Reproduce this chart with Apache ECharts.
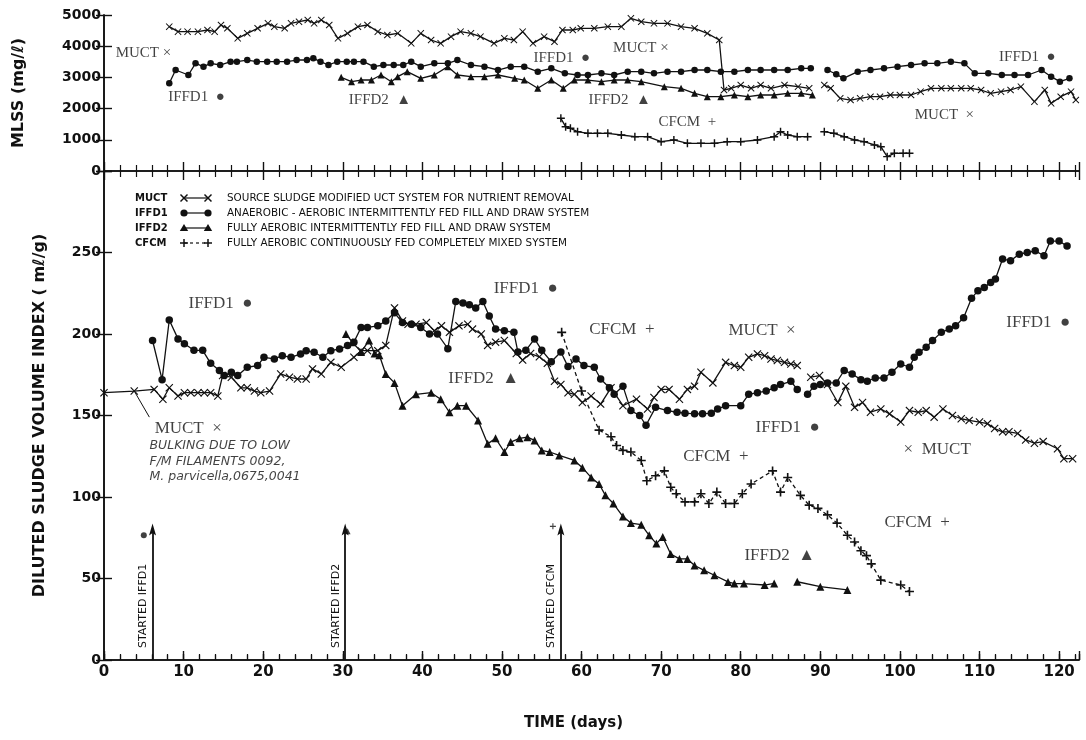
<!DOCTYPE html>
<html>
<head>
<meta charset="utf-8">
<script src="https://cdn.jsdelivr.net/npm/echarts@6/dist/echarts.min.js"></script>
<style>
  html, body { margin: 0; padding: 0; background: #fff; }
  #chart { width: 1086px; height: 740px; }
</style>
</head>
<body>
<div id="chart"></div>
<script>
// ---- MLSS (mg/l), upper panel: [day, value] ----
const mlssMuct = [[8.2,4626],[9.3,4466],[10.5,4466],[11.8,4466],[13,4519],[13.9,4466],[14.7,4679],[15.5,4573],[16.8,4252],[18,4412],[19.3,4573],[20.6,4733],[21.4,4626],[22.7,4573],[23.5,4733],[24.5,4786],[25.6,4840],[26.4,4733],[27.3,4840],[28.3,4679],[29.4,4252],[30.6,4412],[31.9,4626],[33.1,4679],[34.4,4466],[35.6,4359],[36.9,4412],[38.6,4092],[39.8,4412],[41.1,4199],[42.3,4092],[43.6,4306],[44.8,4466],[46.1,4412],[47.3,4306],[49,4092],[50.3,4252],[51.5,4199],[52.6,4466],[53.9,4092],[55.3,4306],[56.6,4145],[57.6,4519],[58.9,4519],[59.9,4573],[61.6,4573],[63.3,4626],[65,4626],[66.2,4893],[67.5,4786],[69.1,4733],[70.8,4733],[72.5,4626],[74.2,4573],[75.8,4412],[77.3,4199],[77.9,2596],[78.8,2650],[80,2756],[81.3,2650],[82.5,2756],[83.8,2650],[85.5,2756],[87.2,2703],[88.6,2650],[89.9,'-'],[90.5,2756],[91.3,2650],[92.5,2329],[93.8,2275],[95,2329],[96.3,2382],[97.5,2382],[98.8,2436],[100,2436],[101.4,2436],[102.6,2543],[103.9,2650],[105.2,2650],[106.4,2650],[107.7,2650],[108.9,2650],[110.2,2596],[111.4,2489],[112.7,2543],[113.9,2596],[115.2,2703],[116.9,2222],[118.2,2596],[119,2168],[120.2,2382],[121.5,2543],[122.1,2275]];
const mlssIffd1 = [[8.2,2810],[9,3237],[10.6,3077],[11.5,3450],[12.5,3344],[13.4,3450],[14.6,3397],[15.9,3504],[16.7,3504],[18,3557],[19.2,3504],[20.5,3504],[21.7,3504],[23,3504],[24.2,3557],[25.5,3557],[26.3,3611],[27.2,3504],[28.2,3397],[29.3,3504],[30.5,3504],[31.4,3504],[32.6,3504],[33.9,3344],[35.1,3397],[36.4,3397],[37.6,3397],[38.6,3504],[39.8,3344],[41.5,3450],[43.2,3450],[44.4,3557],[46.1,3397],[47.8,3344],[49.5,3237],[51.1,3344],[52.8,3344],[54.5,3184],[56.2,3291],[57.9,3130],[59.5,3077],[60.8,3077],[62.5,3130],[64.1,3077],[65.8,3184],[67.5,3184],[69.1,3130],[70.8,3184],[72.5,3184],[74.2,3237],[75.8,3237],[77.5,3184],[79.2,3184],[80.9,3237],[82.5,3237],[84.2,3237],[85.9,3237],[87.6,3291],[88.8,3291],[89.9,'-'],[90.9,3237],[92,3100],[92.9,2970],[94.7,3184],[96.3,3237],[98,3291],[99.7,3344],[101.4,3397],[103.1,3450],[104.7,3450],[106.4,3504],[108.1,3450],[109.4,3130],[111.1,3130],[112.8,3077],[114.4,3077],[116.1,3077],[117.8,3237],[119,3023],[120.1,2863],[121.3,2970]];
const mlssIffd2 = [[29.8,3002],[31.1,2863],[32.3,2916],[33.6,2916],[34.8,3077],[36.1,2863],[36.9,3023],[38.1,3184],[39.8,2970],[41.5,3077],[43.2,3344],[44.4,3077],[46.1,3023],[47.8,3023],[49.5,3077],[51.6,2970],[52.8,2916],[54.5,2650],[56.2,2916],[57.7,2650],[59.1,2916],[60.8,2916],[62.5,2863],[64.1,2916],[65.8,2916],[67.5,2863],[70.4,2703],[72.5,2650],[74.2,2489],[75.8,2382],[77.5,2382],[79.2,2436],[80.9,2382],[82.5,2436],[84.2,2436],[85.9,2489],[87.6,2489],[89,2436]];
const mlssCfcm = [[57.4,1688],[58,1421],[58.6,1368],[59.5,1261],[60.8,1207],[62,1207],[63.3,1207],[65,1154],[66.7,1100],[68.3,1100],[70,940],[71.6,994],[73.3,887],[75,887],[76.7,887],[78.3,940],[80,940],[82.1,994],[84.2,1100],[85,1261],[85.9,1154],[87.1,1100],[88.4,1100],[89.9,'-'],[90.5,1261],[91.7,1207],[93,1100],[94.3,994],[95.5,940],[96.8,834],[97.6,780],[98.4,460],[99.3,567],[100.4,567],[101.2,567]];

// ---- Diluted sludge volume index (ml/g), lower panel: [day, value] ----
const dsviMuct = [[0,164],[3.8,165],[6.3,166],[7.4,160],[8.2,167],[9.3,162],[10.1,164],[10.9,164],[11.8,164],[12.6,164],[13.4,164],[14.3,162],[14.9,174.5],[16,173.5],[17.2,167],[18,167],[18.9,165],[19.7,164],[20.8,165],[22.2,175.5],[23.3,173.5],[24.3,172.4],[25.4,172.4],[26.2,178.6],[27.3,175.5],[28.5,182.6],[29.8,179.6],[31.4,185.7],[32.3,189.8],[33.1,189.8],[34.4,189.8],[35.4,193],[36.5,216],[37.5,208],[38.2,206],[39.2,206],[40.5,207],[41.5,202],[42.4,205],[43.4,201],[44.6,205],[45.7,206],[46.3,203],[47.4,200],[48.2,193],[49.2,195],[50.3,196],[51.8,188],[52.6,184],[53.6,188],[54.7,186],[55.7,182],[56.6,171],[57.4,169],[58.3,164],[59.1,163],[60.1,158],[61.2,162],[62.4,157],[63.7,167],[65.2,156],[66.9,160],[68.3,154],[69.1,161],[70,166],[71,166],[72.3,160],[73.3,166],[74.2,168],[75,176.5],[76.5,170],[78.1,182.6],[79.2,180.6],[80,179.6],[81,185.7],[82.1,187.8],[83,186.7],[83.8,184.7],[84.6,183.7],[85.5,182.6],[86.3,181.6],[87.1,180.6],[87.9,'-'],[88.8,173.5],[89.9,174.5],[90.9,169],[92.2,158],[93.2,168],[94.3,155],[95.3,158],[96.3,152],[97.6,154],[98.7,151],[100.1,146],[101.2,153],[102.3,152],[103.3,153],[104.3,149],[105.4,154],[106.6,150],[107.7,148],[108.7,147],[110,146],[111,145],[111.9,142],[112.9,140],[113.7,140],[114.8,139],[115.8,135],[116.9,133],[118,134],[119.8,129.6],[120.6,123.5],[121.7,123.5]];
const dsviIffd1 = [[6.1,196],[7.3,172],[8.2,208.6],[9.3,197],[10.1,194],[11.3,190],[12.4,190],[13.4,182],[14.5,177.6],[15.1,174.5],[16,176.5],[16.8,174.5],[18,179.6],[19.3,180.6],[20.1,185.7],[21.4,184.7],[22.4,186.7],[23.5,185.7],[24.7,187.8],[25.4,189.8],[26.4,188.8],[27.5,185.7],[28.5,189.8],[29.6,190.8],[30.6,192.9],[31.4,195],[32.3,204],[33.1,204],[34.4,205],[35.4,208],[36.5,213],[37.5,207],[38.6,206],[39.8,204],[40.9,200],[41.9,200],[43.2,191],[44.2,220],[45.1,219],[45.9,218],[46.7,216],[47.6,220],[48.4,211],[49.2,203],[50.3,202],[51.5,201],[52,189],[53,190],[54.1,197],[55,190],[56.2,183],[57.4,189],[58.3,180],[59.3,184.7],[60.3,180.6],[61.6,179.6],[62.4,172.4],[63.5,167],[64.1,163],[65.2,168],[66.2,153],[67.3,150],[68.1,144],[69.3,155],[70.8,153],[72,152],[73,151.4],[74.2,151],[75.2,151],[76.3,151.4],[77.1,154],[78.1,156],[80,156],[81,163],[82.1,164],[83.2,165],[84.2,167],[85,169],[86.3,171],[87.1,166],[87.8,'-'],[88.4,163],[89.2,168],[90,169],[90.9,170],[92,170],[93,177.6],[94,175.5],[95.1,172],[95.9,171],[96.9,173],[98,173],[99,176.5],[100.1,181.6],[101.2,179.6],[101.8,185.7],[102.4,188.8],[103.3,191.8],[104.1,196],[105.2,201],[106.2,203],[107,205],[108,210],[109,222],[109.8,226.5],[110.6,228.6],[111.4,231.6],[112,233.7],[112.9,246],[113.9,245],[115,249],[116,250],[117,251],[118.1,248],[118.9,257],[120,257],[121,254]];
const dsviIffd2 = [[30.4,200],[31.2,195],[32.3,189],[33.3,196],[34,188],[34.6,187],[35.4,175.5],[36.5,170],[37.5,156],[39.2,163],[41.1,164],[42.3,160],[43.4,152],[44.4,156],[45.5,156],[47,147],[48.2,132.6],[49.2,136],[50.3,127.6],[51.1,133.7],[52.2,136],[53.2,136.7],[54.1,134.7],[55,128.6],[56,127.6],[57.2,125.5],[59.1,122.4],[60.1,118],[61.2,112],[62.2,108],[63,101],[64,96],[65.2,88],[66.2,84],[67.5,83],[68.5,76.5],[69.4,71.4],[70.2,75.5],[71.2,65],[72.3,62],[73.3,62],[74.2,58],[75.4,55],[76.7,52],[78.4,47.9],[79.2,46.9],[80.4,46.9],[83,46],[84.2,47],[85.5,'-'],[87.1,48],[90,45],[93.4,43]];
const dsviCfcm = [[57.5,201],[60,165],[62.2,141],[63.7,137],[64.4,131.6],[65.2,128.6],[66.2,127.6],[67.5,122.4],[68.2,110],[69.3,113],[70.4,116],[71.2,106],[71.9,102],[73,97],[74.2,97],[75,102],[76,96],[77,103],[78.1,96],[79.2,96],[80.2,102],[81.3,108],[84,116],[85,103],[85.9,112],[87.5,101],[88.6,95],[89.7,93],[90.9,89],[92.1,84],[93.4,76.5],[94.3,72.4],[95.1,67],[95.8,64],[96.4,59],[97.6,49],[100.1,46],[101.2,42]];

// ---- Axis ranges and tick labels ----
const dayMax = 122.5, dayStep = 10;
const mlssMax = 5000, mlssStep = 1000;
const dsviMax = 300, dsviStep = 50;

// ---- Text placed on the plots: [day, value, text] (text begins at that point) ----
const mlssTags = [[1.4,3782,'MUCT ×'],[8.0,2372,'IFFD1  ●'],[30.7,2276,'IFFD2  ▲'],[53.9,3622,'IFFD1  ●'],[63.9,3942,'MUCT ×'],[60.8,2276,'IFFD2  ▲'],[69.6,1570,'CFCM  +'],[112.4,3654,'IFFD1  ●'],[101.8,1795,'MUCT  ×']];
const dsviTags = [[10.55,218.5,'IFFD1  ●'],[48.9,227.7,'IFFD1  ●'],[43.2,172.6,'IFFD2  ▲'],[6.3,142,'MUCT  ×'],[60.9,203,'CFCM  +'],[78.4,202,'MUCT  ×'],[113.3,206.9,'IFFD1  ●'],[81.8,142.6,'IFFD1  ●'],[72.7,124.8,'CFCM  +'],[100.4,129,'×  MUCT'],[98,84.5,'CFCM  +'],[80.4,64.3,'IFFD2  ▲']];
const bulkingNote = [[5.65,121.8,'BULKING DUE TO LOW\nF/M FILAMENTS 0092,\nM. parvicella,0675,0041']];
const noteLeader = [[3.8,165],[5.7,149]];
// start-up arrows: [day, arrow top value, label]
const startArrows = [[6.1,80,'STARTED IFFD1'],[30.3,80,'STARTED IFFD2'],[57.4,80,'STARTED CFCM']];
const startMarks = [[5.0,76.5,'IFFD1'],[30.6,79,'IFFD2'],[56.4,82,'CFCM']];

const legendRows = [
  ['MUCT', 'SOURCE SLUDGE MODIFIED UCT SYSTEM FOR NUTRIENT REMOVAL'],
  ['IFFD1', 'ANAEROBIC - AEROBIC INTERMITTENTLY FED FILL AND DRAW SYSTEM'],
  ['IFFD2', 'FULLY AEROBIC INTERMITTENTLY FED FILL AND DRAW SYSTEM'],
  ['CFCM', 'FULLY AEROBIC CONTINUOUSLY FED COMPLETELY MIXED SYSTEM']
];

// ---- marker shapes ----
const X_PATH = 'path://M1,0 L5,4 L9,0 L10,1 L6,5 L10,9 L9,10 L5,6 L1,10 L0,9 L4,5 L0,1 Z';
const PLUS_PATH = 'path://M4.1,0 H5.9 V4.1 H10 V5.9 H5.9 V10 H4.1 V5.9 H0 V4.1 H4.1 Z';
const ARROW_HEAD = 'path://M5,0 L10,14 L5,11 L0,14 Z';
const SYMBOL = { MUCT: X_PATH, IFFD1: 'circle', IFFD2: 'triangle', CFCM: PLUS_PATH };
const SYMBOL_SIZE = { MUCT: 8, IFFD1: 7.5, IFFD2: 8, CFCM: 9 };

const INK = '#111';
const SANS = '"DejaVu Sans", sans-serif';
const SERIF = '"Liberation Serif", serif';

function curve(name, data, grid, dashed) {
  return {
    name, type: 'line', data,
    xAxisIndex: grid === 0 ? 1 : 3, yAxisIndex: grid === 0 ? 0 : 2,
    symbol: SYMBOL[name], symbolSize: grid === 0 ? SYMBOL_SIZE[name] - 1 : SYMBOL_SIZE[name],
    showAllSymbol: true, connectNulls: false, silent: true, animation: false,
    itemStyle: { color: INK },
    lineStyle: { color: INK, width: 1.3, type: dashed ? [4, 3] : 'solid' },
    z: 3
  };
}

function tags(data, grid, font) {
  return {
    type: 'scatter', data, silent: true, animation: false,
    xAxisIndex: grid === 0 ? 1 : 3, yAxisIndex: grid === 0 ? 0 : 2,
    symbolSize: 1, itemStyle: { color: 'rgba(0,0,0,0)' },
    label: Object.assign({ show: true, position: 'right', distance: 0, color: INK,
      formatter: p => p.data[2] }, font),
    z: 5
  };
}

const dayLabel = v => (v % dayStep === 0 ? String(v) : '');

function xAxis(grid, position, showLabel) {
  return {
    type: 'value', gridIndex: grid, position, min: 0, max: dayMax, interval: dayStep,
    axisLine: { show: true, lineStyle: { color: INK, width: 1.6 } },
    axisTick: { show: true, inside: true, length: 9, lineStyle: { color: INK, width: 1.4 } },
    minorTick: { show: true, splitNumber: 5, length: 6, lineStyle: { color: INK, width: 1.2 } },
    splitLine: { show: false }, minorSplitLine: { show: false },
    axisLabel: showLabel ? { show: true, color: INK, fontFamily: SANS, fontSize: 15, fontWeight: 'bold', margin: 5, formatter: dayLabel } : { show: false }
  };
}

function yAxis(grid, position, max, step, showLabel, name, nameGap) {
  return {
    type: 'value', gridIndex: grid, position, min: 0, max, interval: step,
    axisLine: { show: true, lineStyle: { color: INK, width: 1.6 } },
    axisTick: { show: true, inside: true, length: 8, lineStyle: { color: INK, width: 1.4 } },
    splitLine: { show: false },
    axisLabel: showLabel ? { show: true, color: INK, fontFamily: SANS, fontSize: 14, fontWeight: 'bold', margin: 3,
      formatter: v => (v % step === 0 && (v < max || grid === 0) ? String(v) : '') } : { show: false },
    name: name || '', nameLocation: 'middle', nameGap: nameGap || 0, nameRotate: 90,
    nameTextStyle: { color: INK, fontFamily: SANS, fontSize: 16, fontWeight: 'bold' }
  };
}

// legend block drawn in the lower panel
const legendGraphics = [];
function markShape(kind, cx, cy) {
  const st = { stroke: INK, lineWidth: 1.5 };
  if (kind === 'MUCT') return [
    { type: 'line', shape: { x1: cx - 3.5, y1: cy - 3.5, x2: cx + 3.5, y2: cy + 3.5 }, style: st },
    { type: 'line', shape: { x1: cx - 3.5, y1: cy + 3.5, x2: cx + 3.5, y2: cy - 3.5 }, style: st }];
  if (kind === 'IFFD1') return [{ type: 'circle', shape: { cx, cy, r: 3.6 }, style: { fill: INK } }];
  if (kind === 'IFFD2') return [{ type: 'polygon', shape: { points: [[cx, cy - 4], [cx + 4.2, cy + 3], [cx - 4.2, cy + 3]] }, style: { fill: INK } }];
  return [
    { type: 'line', shape: { x1: cx - 4, y1: cy, x2: cx + 4, y2: cy }, style: st },
    { type: 'line', shape: { x1: cx, y1: cy - 4, x2: cx, y2: cy + 4 }, style: st }];
}
legendRows.forEach((row, i) => {
  const y = 198 + i * 15;
  legendGraphics.push({ type: 'text', x: 135, y, style: { text: row[0], font: 'bold 10px ' + SANS, fill: INK, verticalAlign: 'middle' } });
  legendGraphics.push({ type: 'line', shape: { x1: 184, y1: y, x2: 208, y2: y },
    style: { stroke: INK, lineWidth: 1.2, lineDash: row[0] === 'CFCM' ? [3, 3] : null } });
  markShape(row[0], 184, y).concat(markShape(row[0], 208, y)).forEach(e => legendGraphics.push(e));
  legendGraphics.push({ type: 'text', x: 227, y, style: { text: row[1], font: '10.4px ' + SANS, fill: INK, verticalAlign: 'middle' } });
});

const chart = echarts.init(document.getElementById('chart'), null, { renderer: 'canvas' });
chart.setOption({
  animation: false,
  backgroundColor: '#fff',
  grid: [
    { left: 104, right: 7, top: 15, height: 156 },
    { left: 104, right: 7, top: 171, height: 489 }
  ],
  xAxis: [
    xAxis(0, 'top', false),
    xAxis(0, 'bottom', false),
    Object.assign(xAxis(1, 'top', false), { axisTick: { show: true, inside: false, length: 6, lineStyle: { color: INK, width: 1.4 } },
      minorTick: { show: true, splitNumber: 5, length: 5, lineStyle: { color: INK, width: 1.2 } } }),
    Object.assign(xAxis(1, 'bottom', true), {
      name: 'TIME (days)', nameLocation: 'middle', nameGap: 56,
      nameTextStyle: { color: INK, fontFamily: SANS, fontSize: 15, fontWeight: 'bold', padding: [0, 36, 0, 0] } })
  ],
  yAxis: [
    yAxis(0, 'left', mlssMax, mlssStep, true, 'MLSS (mg/ℓ)', 77),
    yAxis(0, 'right', mlssMax, mlssStep, false),
    yAxis(1, 'left', dsviMax, dsviStep, true, 'DILUTED SLUDGE VOLUME INDEX ( mℓ/g)', 56),
    yAxis(1, 'right', dsviMax, dsviStep, false)
  ],
  graphic: legendGraphics,
  series: [
    curve('MUCT', mlssMuct, 0),
    curve('IFFD1', mlssIffd1, 0),
    curve('IFFD2', mlssIffd2, 0),
    curve('CFCM', mlssCfcm, 0),
    curve('MUCT', dsviMuct, 1),
    curve('IFFD1', dsviIffd1, 1),
    curve('IFFD2', dsviIffd2, 1),
    curve('CFCM', dsviCfcm, 1, true),
    tags(mlssTags, 0, { fontFamily: SERIF, fontSize: 15 }),
    Object.assign(tags(dsviTags, 1, { fontFamily: SERIF, fontSize: 17 }), {
      markLine: {
        silent: true, animation: false, symbol: ['none', ARROW_HEAD], symbolSize: [7, 12],
        symbolOffset: [0, 0], symbolRotate: 0,
        lineStyle: { color: INK, width: 1.8, type: 'solid' },
        itemStyle: { color: INK },
        label: { show: true, position: 'insideStartTop', distance: [12, 4], color: INK,
          fontFamily: SANS, fontSize: 11, formatter: p => p.name },
        data: startArrows.map(a => [{ coord: [a[0], 0], name: a[2] }, { coord: [a[0], a[1]] }])
      }
    }),
    tags(bulkingNote, 1, { fontFamily: SANS, fontSize: 12.5, fontStyle: 'italic', lineHeight: 15.5 }),
    {
      type: 'scatter', xAxisIndex: 3, yAxisIndex: 2, silent: true, animation: false,
      data: startMarks.map(m => ({ value: [m[0], m[1]], symbol: SYMBOL[m[2]], symbolSize: 6 })),
      itemStyle: { color: INK }
    },
    {
      type: 'line', xAxisIndex: 3, yAxisIndex: 2, data: noteLeader, symbol: 'none', silent: true,
      animation: false, lineStyle: { color: INK, width: 1 }
    }
  ]
});
</script>
</body>
</html>
